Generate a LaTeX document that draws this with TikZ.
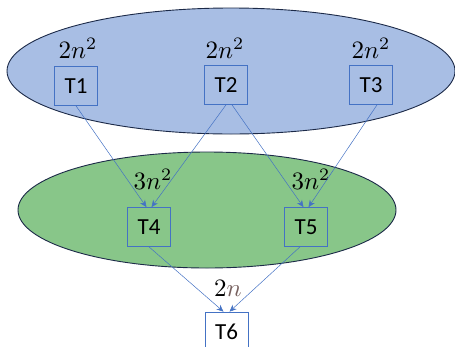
\documentclass[tikz,border=0pt]{standalone}
\usepackage{fontspec}
\usepackage{graphicx}
\setmainfont{Carlito}
\usetikzlibrary{arrows.meta}
\definecolor{topfill}{RGB}{168,190,228}
\definecolor{greenfill}{RGB}{136,198,137}
\definecolor{rimcol}{RGB}{28,42,72}
\definecolor{linkcol}{RGB}{68,114,196}
\definecolor{ncol}{RGB}{118,96,94}
\newcommand{\costtext}[1]{\scalebox{2.5}{$#1$}}
\tikzset{
  task/.style={draw=linkcol, line width=0.7pt, minimum width=43pt, minimum height=39pt, inner sep=0pt, font=\fontsize{23}{27}\selectfont},
  cost/.style={inner sep=0pt},
  link/.style={draw=linkcol, line width=0.5pt, -{Stealth[length=7pt,width=6pt]}},
  group/.style={draw=rimcol, line width=0.9pt}
}
\begin{document}
\begin{tikzpicture}[x=1pt,y=-1pt]
\useasboundingbox (0,0) rectangle (455,346);
\clip (0,0) rectangle (455,346);
\draw[group, fill=topfill] (231,71) ellipse [x radius=224, y radius=63];
\draw[group, fill=greenfill] (207,210) ellipse [x radius=189, y radius=58];
\node[task] (T1) at (76,86) {T1};
\node[task] (T2) at (226,85) {T2};
\node[task] (T3) at (371,85) {T3};
\node[task] (T4) at (149,227) {T4};
\node[task] (T5) at (306,227) {T5};
\node[task, fill=white] (T6) at (226.5,331.5) {T6};
\node[cost] (L1) at (78,48) {\costtext{2n^2}};
\node[cost] (L2) at (225,48) {\costtext{2n^2}};
\node[cost] (L3) at (371,48) {\costtext{2n^2}};
\node[cost] (L4) at (153,179) {\costtext{3n^2}};
\node[cost] (L5) at (311,179) {\costtext{3n^2}};
\node[cost] (L6) at (228,288) {\costtext{2{\color{ncol}n}}};
\draw[link] (T1.south) -- ([xshift=-2.5pt]T4.north);
\draw[link] (T2.south) -- ([xshift=2.5pt]T4.north);
\draw[link] ([xshift=6pt]T2.south) -- ([xshift=-2.5pt]T5.north);
\draw[link] ([xshift=6pt]T3.south) -- ([xshift=2.5pt]T5.north);
\draw[link] (T4.south) -- ([xshift=-3pt]T6.north);
\draw[link] ([xshift=-6pt]T5.south) -- ([xshift=3pt]T6.north);
\end{tikzpicture}
\end{document}
